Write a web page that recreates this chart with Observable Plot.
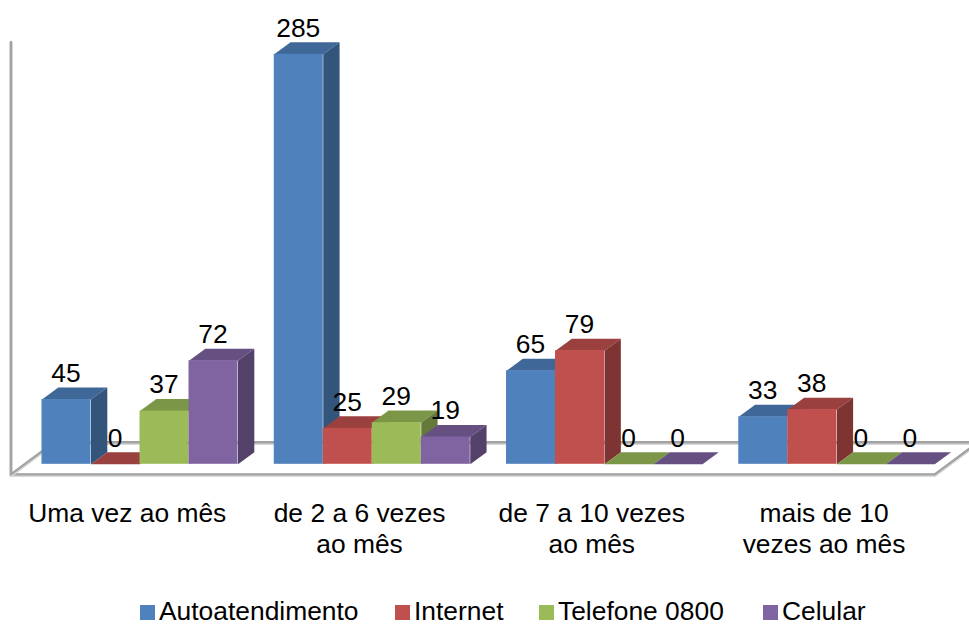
<!DOCTYPE html>
<html>
<head>
<meta charset="utf-8">
<script src="https://cdn.jsdelivr.net/npm/d3@7"></script>
<script src="https://cdn.jsdelivr.net/npm/@observablehq/plot@0.6"></script>
<style>
  html, body { margin: 0; padding: 0; background: #fff; }
  svg { display: block; }
  #legend { position: relative; height: 26px; font: 26.4px/22px "Liberation Sans", Arial, sans-serif; color: #000; }
  #legend .tx { position: absolute; top: 0; white-space: nowrap; }
  #legend .sw { position: absolute; top: 5px; width: 14.5px; height: 14.5px; }
</style>
</head>
<body>
<div id="chart"></div>
<div id="legend"></div>
<script>
const categories = ["Uma vez ao mês", "de 2 a 6 vezes\nao mês", "de 7 a 10 vezes\nao mês", "mais de 10\nvezes ao mês"];
const seriesNames = ["Autoatendimento", "Internet", "Telefone 0800", "Celular"];
const autoatendimento = [45, 285, 65, 33];
const internet = [0, 25, 79, 38];
const telefone = [37, 29, 0, 0];
const celular = [72, 19, 0, 0];
const seriesValues = [autoatendimento, internet, telefone, celular];
const colors = ["#4f81bd", "#c0504d", "#9bbb59", "#8064a2"];
const legendLeft = [159, 414, 558, 782];

// Projection of the fake 3D box, in scale units (x: bar widths, y: chart values)
const groupStep = 4.74, depthX = 0.333, depthY = 8.34, labelGap = 4;
const wallX = -0.633, wallTop = 293.6, floorFront = -7, floorBack = 15.3, floorRight = 18.22;
const floorDepthX = 0.88, labelRowY = -24.3, labelShift = -0.26;

const shade = (c, k) => { const r = d3.rgb(c); return d3.rgb(r.r * k, r.g * k, r.b * k).formatHex(); };

const bars = categories.flatMap((_, g) => seriesValues.map((vals, s) => ({
  x: g * groupStep + s, v: vals[g], color: colors[s]
})));

const barMarks = bars.flatMap(b => {
  const x1 = b.x, x2 = b.x + 1, v = b.v;
  const top = [[x1, v], [x2, v], [x2 + depthX, v + depthY], [x1 + depthX, v + depthY]];
  const side = [[x2, 0], [x2, v], [x2 + depthX, v + depthY], [x2 + depthX, depthY]];
  const poly = (pts, fill) => Plot.line(pts, {x: d => d[0], y: d => d[1], fill, stroke: "none", curve: "linear"});
  const marks = [poly(top, shade(b.color, 0.8))];
  if (v > 0) {
    marks.push(poly(side, shade(b.color, 0.65)));
    marks.push(Plot.rect([b], {x1: d => d.x, x2: d => d.x + 1, y1: () => 0, y2: d => d.v, fill: b.color}));
  }
  return marks;
});

const framePaths = [
  [[wallX, wallTop], [wallX, floorFront], [floorRight, floorFront], [floorRight + floorDepthX, floorBack]],
  [[wallX, floorFront], [wallX + floorDepthX, floorBack], [floorRight + floorDepthX, floorBack]]
];
const frameMarks = framePaths.flatMap(p => [
  Plot.line(p, {x: d => d[0], y: d => d[1], stroke: "#d9d9d9", strokeWidth: 3.5, dy: 1, curve: "linear"}),
  Plot.line(p, {x: d => d[0], y: d => d[1], stroke: "#a3a3a3", strokeWidth: 2.4, curve: "linear"})
]);

const chart = Plot.plot({
  width: 969,
  height: 600,
  margin: 0,
  style: {fontFamily: "'Liberation Sans', Arial, sans-serif", background: "transparent", color: "#000"},
  x: {domain: [0, 1], range: [41.5, 90.5], axis: null},
  y: {domain: [0, 285], range: [463.8, 53.8], axis: null},
  marks: [
    ...frameMarks,
    ...barMarks,
    Plot.text(bars, {
      x: d => d.x + 0.5, y: d => d.v + depthY + labelGap,
      text: d => String(d.v), lineAnchor: "bottom", textAnchor: "middle",
      fontSize: 26.4, fill: "#000", dx: -0.5
    }),
    Plot.text(categories, {
      x: (d, i) => i * groupStep + 2 + labelShift, y: () => labelRowY,
      text: d => d, lineAnchor: "top", textAnchor: "middle", lineHeight: 1.2,
      fontSize: 26.4, fill: "#000"
    })
  ]
});
document.getElementById("chart").appendChild(chart);

const legend = d3.select("#legend");
seriesNames.forEach((name, i) => {
  legend.append("span").attr("class", "sw").style("background", colors[i]).style("left", (legendLeft[i] - 19) + "px");
  legend.append("span").attr("class", "tx").style("left", legendLeft[i] + "px").text(name);
});
</script>
</body>
</html>
